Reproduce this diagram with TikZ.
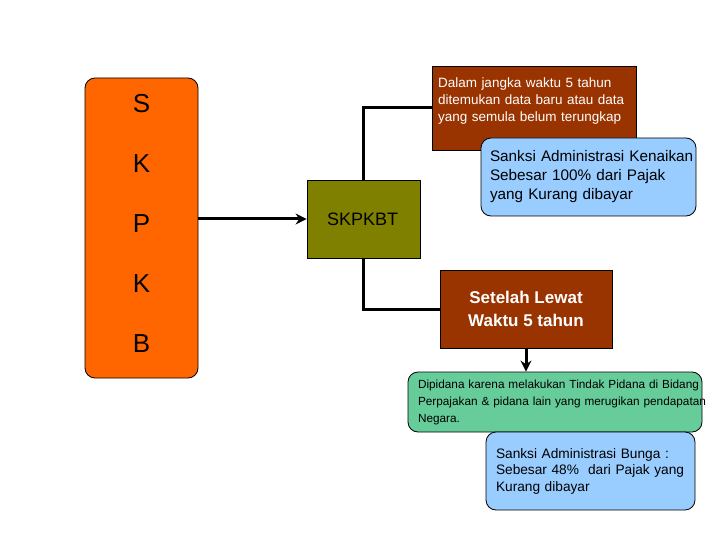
\documentclass[tikz,border=0pt]{standalone}
\usepackage{fontspec}
\setmainfont{Liberation Sans}
\usetikzlibrary{arrows.meta}

\definecolor{skorange}{HTML}{FF6600}
\definecolor{skolive}{HTML}{808000}
\definecolor{skbrown}{HTML}{993300}
\definecolor{skblue}{HTML}{99CCFF}
\definecolor{skgreen}{HTML}{66CC99}

\tikzset{
  box/.style={draw=black, line width=0.8pt, inner xsep=6pt, inner ysep=3pt},
  roundbox/.style={box, rounded corners=10pt},
  link/.style={line width=3pt},
  arrowlink/.style={link, -{Stealth[length=11pt,width=11pt]}}
}

\begin{document}
\begin{tikzpicture}[x=1pt,y=-1pt]
  \useasboundingbox (0,0) rectangle (720,540);

  % left column
  \node[roundbox, fill=skorange, minimum width=113pt, minimum height=300pt] (skpkb) at (141.5,228) {};
  \node[align=center, font=\fontsize{26}{60}\selectfont] (letters) at (141.5,223) {S\\K\\P\\K\\B};

  % middle
  \node[box, fill=skolive, minimum width=113pt, minimum height=78pt,
        text width=73pt, align=left, font=\fontsize{18}{19}\selectfont,
        inner xsep=20pt] (skpkbt) at (363.5,219) {SKPKBT};

  % upper branch
  \node[box, fill=skbrown, text=white, minimum width=204pt, minimum height=84pt,
        text width=192pt, align=left, font=\fontsize{13.5}{17}\selectfont] (dalam) at (534,108)
    {\mbox{Dalam jangka waktu 5 tahun}\\\mbox{ditemukan data baru atau data}\\\mbox{yang semula belum terungkap}\rule[-16pt]{0pt}{0pt}};
  \node[roundbox, fill=skblue, minimum width=215pt, minimum height=78pt,
        text width=197pt, inner xsep=9pt, align=left, font=\fontsize{15.3}{19}\selectfont] (naik) at (588.5,177)
    {\mbox{Sanksi Administrasi Kenaikan}\\\mbox{Sebesar 100\% dari Pajak}\\\mbox{yang Kurang dibayar}};

  % lower branch
  \node[box, fill=skbrown, text=white, minimum width=172pt, minimum height=78pt,
        align=center, font=\bfseries\fontsize{17}{23}\selectfont] (setelah) at (526,309)
    {Setelah Lewat\\Waktu 5 tahun};
  \node[roundbox, fill=skgreen, minimum width=294pt, minimum height=60pt,
        text width=274pt, inner xsep=10pt, align=left, font=\fontsize{11.8}{17}\selectfont] (pidana) at (555,402)
    {\mbox{Dipidana karena melakukan Tindak Pidana di Bidang}\\\mbox{Perpajakan \& pidana lain yang merugikan pendapatan}\\\mbox{Negara.}};
  \node[roundbox, fill=skblue, minimum width=209pt, minimum height=78pt,
        text width=189pt, inner xsep=10pt, align=left, font=\fontsize{13.7}{16.5}\selectfont] (bunga) at (590.5,471)
    {\mbox{Sanksi Administrasi Bunga :}\\\mbox{Sebesar 48\%~ dari Pajak yang}\\\mbox{Kurang dibayar}};

  % connectors
  \draw[arrowlink] (skpkb.east |- skpkbt.west) -- (skpkbt.west);
  \draw[link] (skpkbt.north) |- (dalam.west);
  \draw[link] (skpkbt.south) |- (setelah.west);
  \draw[arrowlink] (setelah.south) -- (setelah.south |- pidana.north);
\end{tikzpicture}
\end{document}
